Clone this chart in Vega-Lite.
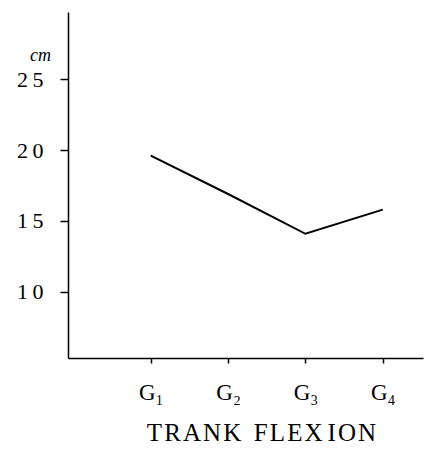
{
  "$schema": "https://vega.github.io/schema/vega-lite/v6.json",
  "width": 355,
  "height": 346,
  "autosize": "none",
  "padding": {"left": 68, "top": 12, "right": 5, "bottom": 100},
  "background": "white",
  "config": {
    "view": {"stroke": null},
    "font": "Liberation Serif",
    "axis": {"grid": false, "domainColor": "black", "tickColor": "black", "labelColor": "black", "titleColor": "black", "labelFont": "Liberation Serif", "titleFont": "Liberation Serif", "titleFontWeight": "normal", "domainWidth": 1.5, "tickWidth": 1.5}
  },
  "data": {"values": [
    {"group": 1, "cm": 19.6},
    {"group": 2, "cm": 16.9},
    {"group": 3, "cm": 14.1},
    {"group": 4, "cm": 15.8}
  ]},
  "mark": {"type": "line", "color": "black", "strokeWidth": 2},
  "encoding": {
    "x": {
      "field": "group", "type": "quantitative",
      "scale": {"domain": [-0.07, 4.52], "nice": false, "zero": false},
      "axis": {
        "values": [1, 2, 3, 4],
        "labelExpr": "'G' + ['₁','₂','₃','₄'][datum.value - 1]",
        "tickSize": 5, "labelPadding": 18, "labelFontSize": 23,
        "title": "T\u200aR\u200aA\u200aN\u200aK\u2002F\u200aL\u200aE\u200aX\u2009I\u200aO\u200aN", "titleFontSize": 25, "titlePadding": 16,
        "titleX": 193, "titleAnchor": "middle"
      }
    },
    "y": {
      "field": "cm", "type": "quantitative",
      "scale": {"domain": [5.35, 29.72], "nice": false, "zero": false},
      "axis": {
        "values": [10, 15, 20, 25],
        "labelExpr": "slice(datum.label, 0, 1) + '\u2009' + slice(datum.label, 1)",
        "tickSize": 8, "labelPadding": 17, "labelFontSize": 22,
        "title": "cm", "titleAngle": 0, "titleFontStyle": "italic", "titleFontSize": 18,
        "titleX": -28, "titleY": 43, "titleAlign": "center", "titleBaseline": "middle"
      }
    }
  }
}
